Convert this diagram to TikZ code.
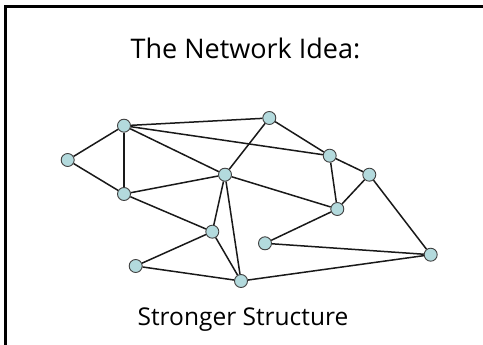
\documentclass[tikz,border=0pt]{standalone}
\usepackage{fontspec}
\setmainfont{Open Sans}
\begin{document}
\begin{tikzpicture}[x=1pt,y=-1pt,
  vert/.style={circle,draw=black!75,line width=0.9pt,fill=nodefill,minimum size=13pt,inner sep=0pt},
  edge/.style={line width=1.5pt,black!90}]
\definecolor{nodefill}{HTML}{B3DADD}
\useasboundingbox (0,0) rectangle (483,345);
\fill[white] (0,0) rectangle (483,345);
\draw[line width=3pt] (5.5,345) -- (5.5,6.5) -- (483,6.5);
\node[anchor=base] (title) at (245.5,59) {\fontsize{27}{32}\selectfont The Network Idea:};
\node[anchor=base] (caption) at (243,325) {\fontsize{24.5}{29}\selectfont Stronger Structure};
\node[vert] (A) at (67.7,160) {};
\node[vert] (B) at (124,125.7) {};
\node[vert] (C) at (269.3,118) {};
\node[vert] (D) at (124,194) {};
\node[vert] (E) at (225,174.7) {};
\node[vert] (F) at (329.7,155.7) {};
\node[vert] (G) at (369.3,174.7) {};
\node[vert] (H) at (337.3,209) {};
\node[vert] (I) at (212.3,231.7) {};
\node[vert] (J) at (135.7,266) {};
\node[vert] (K) at (241,281) {};
\node[vert] (L) at (265,243.3) {};
\node[vert] (M) at (430.7,254.7) {};
\foreach \a/\b in {A/B,A/D,B/C,B/F,B/E,B/D,C/E,C/F,F/G,F/H,G/H,G/M,E/D,E/H,E/I,E/K,D/I,I/J,I/K,J/K,K/M,L/M,L/H}
  \draw[edge] (\a) -- (\b);
\end{tikzpicture}
\end{document}
